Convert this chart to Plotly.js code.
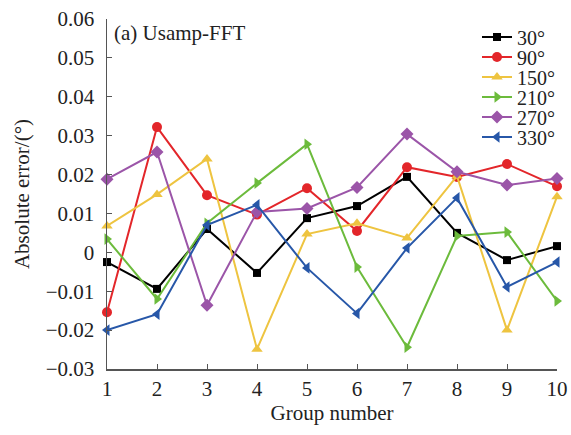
<!DOCTYPE html>
<html><head><meta charset="utf-8">
<script src="https://cdn.plot.ly/plotly-3.0.1.min.js"></script>
<style>body{margin:0;background:#fff}#c{width:571px;height:435px}</style>
</head><body><div id="c"></div>
<script>
const groups = [1,2,3,4,5,6,7,8,9,10];
const names = ["30°","90°","150°","210°","270°","330°"];
const s30  = [-0.0025,-0.0094,0.0060,-0.0053,0.0088,0.0119,0.0194,0.0050,-0.0020,0.0016];
const s90  = [-0.0154,0.0322,0.0147,0.0097,0.0165,0.0055,0.0219,0.0194,0.0227,0.0170];
const s150 = [0.0068,0.0149,0.0240,-0.0249,0.0047,0.0075,0.0037,0.0196,-0.0200,0.0143];
const s210 = [0.0034,-0.0120,0.0075,0.0178,0.0278,-0.0038,-0.0244,0.0042,0.0052,-0.0125];
const s270 = [0.0188,0.0258,-0.0136,0.0104,0.0113,0.0167,0.0304,0.0207,0.0173,0.0190];
const s330 = [-0.0200,-0.0159,0.0070,0.0122,-0.0040,-0.0157,0.0011,0.0140,-0.0089,-0.0025];
const series = [s30,s90,s150,s210,s270,s330];
const colors = ["#000000","#e3262a","#eec440","#6cbb3c","#9b55a8","#2757a8"];
const symbols = ["square","circle","triangle-up","triangle-right","diamond","triangle-left"];
const sizes = [8,10,10,10,10,10];
const traces = series.map((ys,i)=>({
  x: groups, y: ys, name: names[i], type:"scatter", mode:"lines+markers",
  line:{color:colors[i], width:2}, marker:{symbol:symbols[i], size:sizes[i], color:colors[i]},
  cliponaxis:false
}));
const fam = "Liberation Serif, Times New Roman, serif";
const tf = {family:fam, size:21, color:"#222"};
const lf = {family:fam, size:20, color:"#222"};
Plotly.newPlot("c", traces, {
  width:571, height:435,
  margin:{l:107, r:12, t:19, b:66},
  paper_bgcolor:"#fff", plot_bgcolor:"#fff",
  font: tf,
  showlegend:true,
  legend:{x:0.82, xanchor:"left", y:1, yanchor:"top", bgcolor:"rgba(0,0,0,0)", font:lf, itemwidth:30},
  xaxis:{range:[1,10], tickvals:groups, ticks:"inside", ticklen:5, tickcolor:"#555", showline:true, linecolor:"#555", linewidth:1.5, showgrid:false, zeroline:false,
    title:{text:"Group number", font:tf, standoff:4}, tickfont:tf},
  yaxis:{range:[-0.03,0.06], dtick:0.01, tick0:0, ticks:"inside", ticklen:5, tickcolor:"#555", showline:true, linecolor:"#555", linewidth:1.5, showgrid:false, zeroline:false,
    ticklabelstandoff:7,
    title:{text:"Absolute error/(°)", font:tf, standoff:10}, tickfont:tf},
  annotations:[{text:"(a) Usamp-FFT", xref:"paper", yref:"paper", x:0.012, y:1.0, xanchor:"left", yanchor:"top", showarrow:false, font:tf}]
}, {displayModeBar:false, staticPlot:true}).then(gd=>{
  const leg = gd.querySelector(".legend");
  if(!leg) return;
  leg.setAttribute("transform","translate(477,0)");
  const items = leg.querySelectorAll("g.traces");
  items.forEach((g,i)=>{ g.setAttribute("transform","translate(0,"+(37+20*i)+")"); });
  const clips = leg.querySelectorAll("rect.scrollbar, rect.bg");
  clips.forEach(r=>{ r.setAttribute("height","160"); });
});
</script></body></html>
